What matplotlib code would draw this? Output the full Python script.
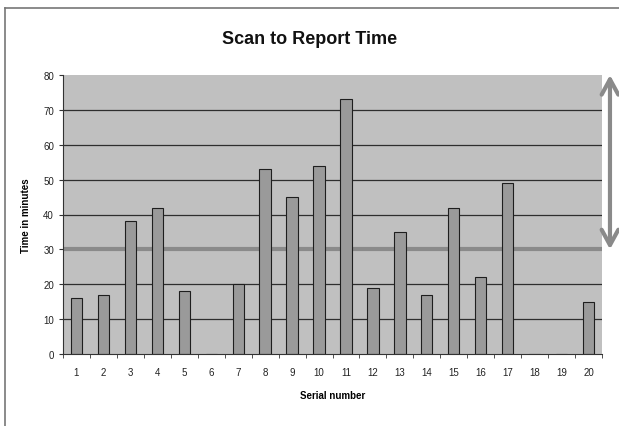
import numpy as np
import matplotlib
matplotlib.use("Agg")
import matplotlib.pyplot as plt
from matplotlib.ticker import MultipleLocator, FixedLocator

plt.rcParams["font.family"] = ["Liberation Sans", "DejaVu Sans"]

# ── Data ──────────────────────────────────────────────────────────────────────
serial = list(range(1, 21))
minutes = [16, 17, 38, 42, 18, 0, 20, 53, 45, 54,
           73, 19, 35, 17, 42, 22, 49, 0, 0, 15]
target = 30
y_max = 80

# ── Plot ──────────────────────────────────────────────────────────────────────
fig = plt.figure(figsize=(6.19, 4.27), dpi=100)
ax = fig.add_axes([63 / 619, 1 - 355 / 427, (602 - 63) / 619, (355 - 76) / 427])
ax.set_facecolor("#c0c0c0")

x = np.arange(len(serial))
ax.set_xlim(-0.5, len(serial) - 0.5)
ax.set_ylim(0, y_max)

# gridlines
for g in range(10, y_max, 10):
    if g != target:
        ax.axhline(g, color="#2e2e2e", linewidth=0.9, zorder=1)
ax.axhline(target, color="#8a8a8a", linewidth=3, zorder=1)

ax.bar(x, minutes, width=0.42, color="#9a9a9a", edgecolor="#1e1e1e",
       linewidth=0.8, zorder=2)

# Excel-style ticks
ax.set_xticks(x)
ax.set_xticklabels([str(s) for s in serial], fontsize=7, color="#222222")
ax.xaxis.set_minor_locator(FixedLocator(np.arange(-0.5, len(serial), 1.0)))
ax.tick_params(axis="x", which="major", length=0, pad=9)
ax.tick_params(axis="x", which="minor", length=3, direction="out", color="#333333")
ax.yaxis.set_major_locator(MultipleLocator(10))
ax.tick_params(axis="y", labelsize=7, length=3, color="#333333", labelcolor="#222222")

for s in ["top", "right"]:
    ax.spines[s].set_visible(False)
ax.spines["left"].set_color("#333333")
ax.spines["bottom"].set_color("#333333")
ax.spines["left"].set_linewidth(0.8)
ax.spines["bottom"].set_linewidth(0.8)

ax.set_xlabel("Serial number", fontsize=7, fontweight="bold", labelpad=10)
ax.set_ylabel("Time in minutes", fontsize=7, fontweight="bold", labelpad=9)

fig.text(0.5, 1 - 40 / 427, "Scan to Report Time", ha="center", va="center",
         fontsize=13, fontweight="bold", color="#111111")

# double-headed arrow from target to top
ax.annotate("", xy=(1.0148, 1.0), xycoords="axes fraction",
            xytext=(1.0148, target / y_max), textcoords="axes fraction",
            arrowprops=dict(arrowstyle="<->,head_length=0.55,head_width=0.3",
                            color="#8a8a8a", lw=3,
                            mutation_scale=20, shrinkA=0, shrinkB=0),
            annotation_clip=False)

# outer chart border (left and top visible)
fig.add_artist(plt.Line2D([5 / 619, 5 / 619], [0, 1 - 9 / 427],
                          transform=fig.transFigure, color="#777777", linewidth=1.2))
fig.add_artist(plt.Line2D([5 / 619, 1], [1 - 9 / 427, 1 - 9 / 427],
                          transform=fig.transFigure, color="#777777", linewidth=1.2))

fig.savefig("out.png", dpi=100)
